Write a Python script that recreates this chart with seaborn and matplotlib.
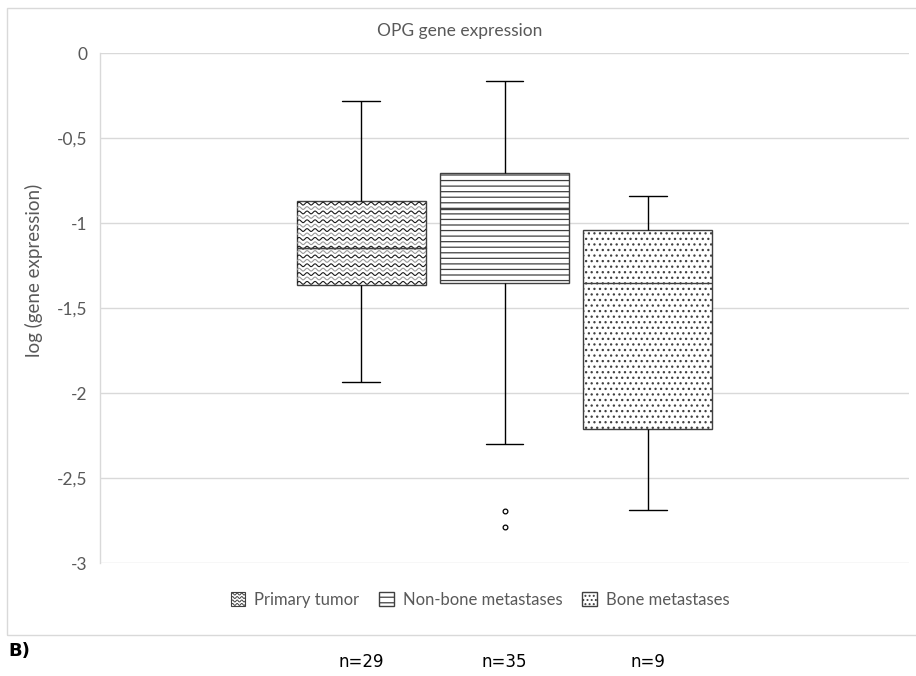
import numpy as np
import pandas as pd
import matplotlib
matplotlib.use("Agg")
import matplotlib.pyplot as plt
import matplotlib.transforms as mtransforms
import seaborn as sns
from matplotlib.patches import Patch, Rectangle
from matplotlib.legend_handler import HandlerBase
from matplotlib.lines import Line2D

# ---------------- data ----------------
groups = ["Primary tumor", "Non-bone metastases", "Bone metastases"]
n_counts = [29, 35, 9]
whisker_low = [-1.935, -2.30, -2.69]
q1 = [-1.365, -1.355, -2.21]
median = [-1.145, -0.92, -1.355]
q3 = [-0.873, -0.705, -1.04]
whisker_high = [-0.28, -0.165, -0.84]
outlier_groups = ["Non-bone metastases", "Non-bone metastases"]
outlier_values = [-2.695, -2.79]
title = "OPG gene expression"
ylabel = "log (gene expression)"
yticks = [0, -0.5, -1, -1.5, -2, -2.5, -3]
ytick_labels = ["0", "-0,5", "-1", "-1,5", "-2", "-2,5", "-3"]
panel_label = "B)"

# five-number table per group for seaborn
rows = []
for g, lo, a, m, b, hi in zip(groups, whisker_low, q1, median, q3, whisker_high):
    for v in (lo, a, m, b, hi):
        rows.append({"group": g, "value": v})
df = pd.DataFrame(rows)
out_df = pd.DataFrame({"group": outlier_groups, "value": outlier_values})

sns.set_theme(style="white")
plt.rcParams["font.family"] = ["Lato", "DejaVu Sans"]
plt.rcParams["hatch.linewidth"] = 0.9

GRID = "#d9d9d9"
TXT = "#595959"
EDGE = "#404040"

W, H = 916, 676
fig = plt.figure(figsize=(W / 100, H / 100), dpi=100)
fig.patch.set_facecolor("white")
ax = fig.add_axes([100 / W, 1 - 563 / H, 809 / W, (563 - 53) / H])

sns.boxplot(data=df, x="group", y="value", order=groups, width=0.9,
            whis=(0, 100), color="white", linecolor=EDGE, linewidth=1.0,
            showfliers=False, capwidths=0.26, ax=ax,
            whiskerprops={"color": "black"}, capprops={"color": "black"})

sns.stripplot(data=out_df, x="group", y="value", order=groups, jitter=False,
              color="white", edgecolor="black", linewidth=0.9, size=3.4, ax=ax)

ax.set_xlim(-1.82, 3.82)
ax.set_ylim(-3, 0)

boxes = [p for p in ax.patches]
hatches = [None, "---", "..."]
for p, h in zip(boxes, hatches):
    p.set_facecolor("white")
    p.set_edgecolor(EDGE)
    if h:
        p.set_hatch(h)

# wavy fill for the primary tumor box (decoration clipped to its patch)
px_x = 809 / 5.64
px_y = 510 / 3.0
xs = np.linspace(-0.46, 0.46, 600)
spacing = 4.4 / px_y
amp = 1.4 / px_y
period = 8.0 / px_x
yv = q1[0] + spacing * 0.5
k = 0
while yv < q3[0] + spacing:
    ys = yv + amp * np.sin(2 * np.pi * xs / period)
    ln, = ax.plot(xs, ys, color="#1a1a1a" if k % 2 == 0 else "#9a9a9a", lw=0.8, zorder=3)
    ln.set_clip_path(boxes[0])
    yv += spacing
    k += 1
ax.plot([-0.45, 0.45], [median[0], median[0]], color=EDGE, lw=1.0, zorder=4)

ax.set_yticks(yticks, ytick_labels)
ax.set_xticks([])
ax.set_xlabel("")
ax.tick_params(axis="y", length=0, pad=9, labelsize=12.5, labelcolor=TXT)
ax.yaxis.grid(True, color=GRID, lw=1.0)
ax.set_axisbelow(True)
for s in ["top", "right", "bottom"]:
    ax.spines[s].set_visible(False)
ax.spines["left"].set_color(GRID)
ax.spines["left"].set_linewidth(1.0)
ax.set_ylabel(ylabel, color=TXT, fontsize=13.5)
ax.yaxis.set_label_coords(-57 / 809, (563 - 270) / 510)

fig.text(460 / W, 1 - 31 / H, title, ha="center", va="center", color=TXT, fontsize=12.5)


class WaveHandler(HandlerBase):
    def create_artists(self, legend, orig_handle, xdescent, ydescent,
                       width, height, fontsize, trans):
        s = min(width, height)
        x0 = -xdescent + (width - s) / 2
        y0 = -ydescent + (height - s) / 2
        rect = Rectangle((x0, y0), s, s, facecolor="white", edgecolor=EDGE,
                         lw=0.8, transform=trans)
        arts = [rect]
        nrows = 4
        xx = np.linspace(x0, x0 + s, 40)
        for i in range(nrows):
            yy = y0 + s * (i + 0.5) / nrows
            yw = yy + s * 0.07 * np.sin(2 * np.pi * (xx - x0) / (s / 3))
            arts.append(Line2D(xx, yw, color=EDGE, lw=0.7, transform=trans))
        return arts


h_primary = Patch(facecolor="white", edgecolor=EDGE, label=groups[0])
h_nonbone = Patch(facecolor="white", edgecolor=EDGE, hatch="---", label=groups[1])
h_bone = Patch(facecolor="white", edgecolor=EDGE, hatch="....", label=groups[2])
leg = fig.legend(handles=[h_primary, h_nonbone, h_bone], loc="center",
                 bbox_to_anchor=(480 / W, 1 - 600 / H), ncol=3, frameon=False,
                 fontsize=12, handlelength=0.9, handleheight=0.9,
                 handletextpad=0.5, columnspacing=1.2, labelcolor=TXT,
                 handler_map={h_primary: WaveHandler()})

# outer chart border (right edge lies beyond the image, as in the reference)
fig.add_artist(Rectangle((7 / W, 1 - 635 / H), (930 - 7) / W, (635 - 8) / H,
                         transform=fig.transFigure, fill=False,
                         edgecolor=GRID, lw=1.0))

fig.text(8 / W, 1 - 651 / H, panel_label, ha="left", va="center",
         fontsize=13, fontweight="bold", family="DejaVu Sans", color="black")
blend = mtransforms.blended_transform_factory(ax.transData, fig.transFigure)
for i, n in enumerate(n_counts):
    ax.text(i, 1 - 662 / H, f"n={n}", transform=blend, ha="center", va="center",
            fontsize=12, family="DejaVu Sans", color="black", clip_on=False)

fig.savefig("out.png", dpi=100, facecolor="white")
